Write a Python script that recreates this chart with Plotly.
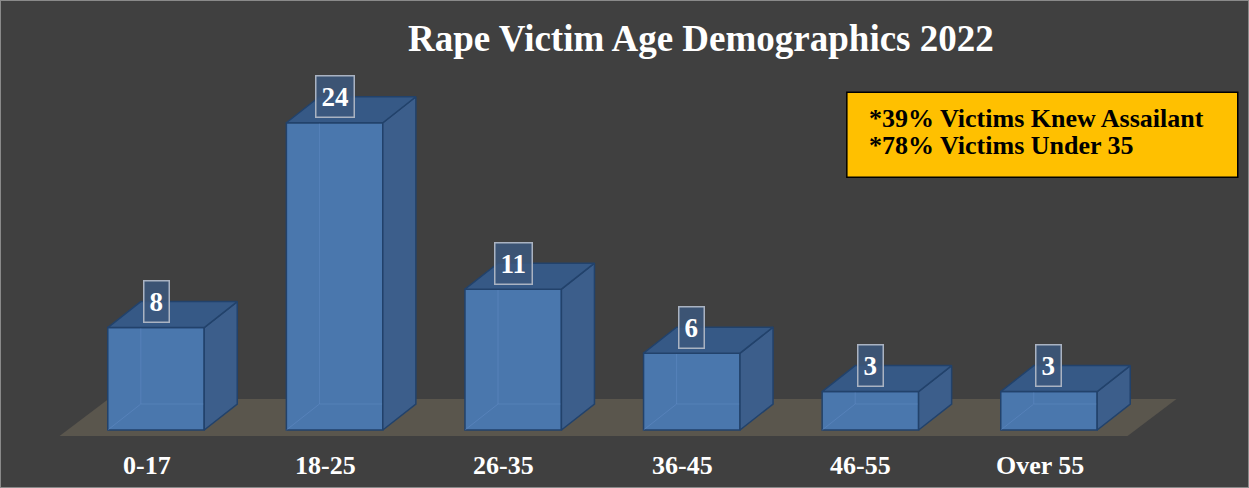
import plotly.graph_objects as go

categories = ["0-17", "18-25", "26-35", "36-45", "46-55", "Over 55"]
values = [8, 24, 11, 6, 3, 3]
title_text = "Rape Victim Age Demographics 2022"
note_lines = ["*39% Victims Knew Assailant", "*78% Victims Under 35"]

FONT = "Liberation Serif, Times New Roman, serif"
BG = "#404040"
FRONT = "#4a77ad"
TOP = "#365986"
SIDE = "#3c5e8b"
EDGE = "#22426b"
FLOOR = "#5a564d"

W = 0.54      # bar width (category units)
DX = 0.185    # depth offset x (category units)
DY = 2.03     # depth offset y (value units)
LABEL_SHIFT = -0.053  # category labels sit slightly left of bar centres

xs = list(range(len(categories)))

fig = go.Figure()

# front faces
fig.add_trace(go.Bar(
    x=xs, y=values, width=W,
    marker=dict(color=FRONT, line=dict(color=EDGE, width=1.5)),
    hoverinfo="skip", showlegend=False,
))

# hidden back edges (translucent look)
hx, hy = [], []
for i, v in zip(xs, values):
    x0, x1 = i - W / 2, i + W / 2
    hx += [x0, x0 + DX, x1 + DX, None, x0 + DX, x0 + DX, None]
    hy += [0, DY, DY, None, DY, v + DY, None]
fig.add_trace(go.Scatter(x=hx, y=hy, mode="lines",
                         line=dict(color="rgba(110,150,210,0.35)", width=1),
                         hoverinfo="skip", showlegend=False))

# side faces
sx, sy = [], []
for i, v in zip(xs, values):
    x1 = i + W / 2
    sx += [x1, x1 + DX, x1 + DX, x1, x1, None]
    sy += [0, DY, v + DY, v, 0, None]
fig.add_trace(go.Scatter(x=sx, y=sy, mode="lines", fill="toself",
                         fillcolor=SIDE, line=dict(color=EDGE, width=1.5),
                         hoverinfo="skip", showlegend=False))

# top faces
tx, ty = [], []
for i, v in zip(xs, values):
    x0, x1 = i - W / 2, i + W / 2
    tx += [x0, x1, x1 + DX, x0 + DX, x0, None]
    ty += [v, v, v + DY, v + DY, v, None]
fig.add_trace(go.Scatter(x=tx, y=ty, mode="lines", fill="toself",
                         fillcolor=TOP, line=dict(color=EDGE, width=1.5),
                         hoverinfo="skip", showlegend=False))

# floor (below everything)
fx0, fx1 = -0.54, len(categories) - 1 + 0.44
fy0, fdx, fdy = -0.47, 0.274, 2.9
fig.add_shape(type="path", xref="x", yref="y", layer="below",
              path=f"M {fx0},{fy0} L {fx1},{fy0} L {fx1 + fdx},{fy0 + fdy} L {fx0 + fdx},{fy0 + fdy} Z",
              fillcolor=FLOOR, line=dict(width=0))

annotations = []
# value labels
for i, v in zip(xs, values):
    annotations.append(dict(
        x=i, y=v + DY, xref="x", yref="y", text=f"<b>{v}</b>", showarrow=False,
        font=dict(family=FONT, size=27, color="white"),
        bgcolor="rgba(60,88,126,0.85)", bordercolor="#aab3c2", borderwidth=1.5,
        borderpad=5, xanchor="center", yanchor="middle",
    ))
# category labels
for i, c in zip(xs, categories):
    annotations.append(dict(
        x=i + LABEL_SHIFT, y=-2.8, xref="x", yref="y", text=f"<b>{c}</b>", showarrow=False,
        font=dict(family=FONT, size=26, color="white"),
        xanchor="center", yanchor="middle",
    ))
# title
annotations.append(dict(
    x=0.561, y=0.922, xref="paper", yref="paper", text=f"<b>{title_text}</b>",
    showarrow=False, font=dict(family=FONT, size=37, color="white"),
    xanchor="center", yanchor="middle",
))
# note box text
for k, line in enumerate(note_lines):
    annotations.append(dict(
        x=0.694, y=0.758 - k * 0.056, xref="paper", yref="paper", text=f"<b>{line}</b>",
        showarrow=False, font=dict(family=FONT, size=26, color="black"),
        xanchor="left", yanchor="middle", align="left",
    ))

fig.add_shape(type="rect", xref="paper", yref="paper",
              x0=0.678, x1=0.991, y0=0.637, y1=0.811,
              fillcolor="#ffc000", line=dict(color="black", width=1.5), layer="below")
# outer border
fig.add_shape(type="rect", xref="paper", yref="paper", x0=0, x1=1, y0=0, y1=1,
              line=dict(color="#8a8a8a", width=2), fillcolor="rgba(0,0,0,0)")

fig.update_layout(
    width=1249, height=488,
    margin=dict(l=0, r=0, t=0, b=0),
    paper_bgcolor=BG, plot_bgcolor=BG,
    showlegend=False,
    annotations=annotations,
    xaxis=dict(range=[-0.8735, 6.12], showgrid=False, zeroline=False,
               showticklabels=False, showline=False, fixedrange=True),
    yaxis=dict(range=[-4.53, 33.59], showgrid=False, zeroline=False,
               showticklabels=False, showline=False, fixedrange=True),
)

fig.write_html(
    "out.html",
    config={"displayModeBar": False},
    post_script="document.body.style.margin='0';document.body.style.overflow='hidden';",
)
